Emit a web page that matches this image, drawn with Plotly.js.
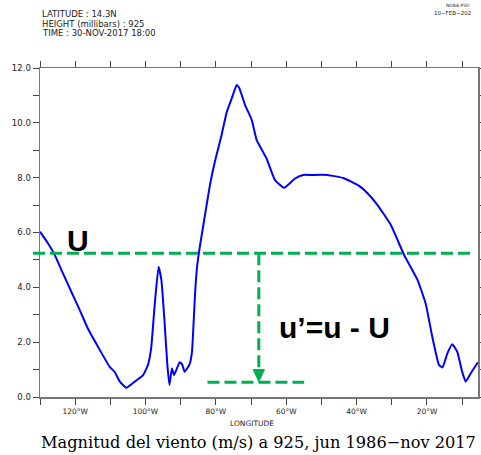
<!DOCTYPE html>
<html>
<head>
<meta charset="utf-8">
<script src="https://cdn.plot.ly/plotly-3.0.1.min.js"></script>
<style>html,body{margin:0;padding:0;background:#fff;}#chart{width:481px;height:455px;}</style>
</head>
<body>
<div id="chart"></div>
<script>
// Longitude (degrees, negative = West) and wind magnitude (m/s)
const longitude = [-130, -127.7, -125.8, -123.9, -121.1, -118.7, -116.4, -113.5, -110.2, -108.8,
  -107.3, -105.5, -103.1, -100.7, -99.3, -98.4, -97.4, -96.3, -95.5, -94.6, -93.8, -93.2,
  -92.5, -91.9, -90.3, -89.6, -88.9, -87.5, -86.8, -85.9, -85.3, -84.5, -83.1, -81.7,
  -80.3, -78.4, -76.9, -75.5, -74.1, -73.4, -71.7, -69.8, -68.4, -65.6, -63.2, -60.6,
  -57.5, -55.2, -53, -48.3, -43.6, -39.3, -36.9, -34.1, -30.3, -26.5, -22.7, -20.4,
  -18.5, -16.6, -15.6, -14.2, -12.8, -11.4, -10, -9, -7.6, -5.5];
const windSpeed = [6.03, 5.6, 5.18, 4.63, 3.84, 3.17, 2.5, 1.83, 1.1, 0.92,
  0.56, 0.34, 0.56, 0.80, 1.17, 1.78, 3.36, 4.75, 4.27, 2.75, 1.17, 0.44,
  1.05, 0.80, 1.27, 1.19, 0.92, 1.19, 1.65, 3.84, 4.81, 5.54, 6.64, 7.73,
  8.58, 9.55, 10.4, 10.89, 11.38, 11.28, 10.65, 10.1, 9.37, 8.7, 7.91, 7.63,
  7.97, 8.1, 8.1, 8.1, 7.98, 7.70, 7.43, 7.01, 6.28, 5.18, 4.27, 3.42,
  2.2, 1.17, 1.08, 1.59, 1.92, 1.65, 0.92, 0.56, 0.86, 1.27];

// Tick definitions
const xTickVals = [-130, -120, -110, -100, -90, -80, -70, -60, -50, -40, -30, -20, -10];
const xTickText = ['', '120°W', '', '100°W', '', '80°W', '', '60°W', '', '40°W', '', '20°W', ''];
const yTickVals = [0,1,2,3,4,5,6,7,8,9,10,11,12];
const yTickText = ['0.0','','2.0','','4.0','','6.0','','8.0','','10.0','','12.0'];

// Annotation guide values
const meanU = 5.24;          // U (mean)
const arrowLon = -67.8;      // longitude of the u' arrow
const lowLevel = 0.54;       // lower dashed level
const lowLine = [-82.4, -54.9];

const infoLines = ['LATITUDE : 14.3N', 'HEIGHT (millibars) : 925', 'TIME : 30-NOV-2017 18:00'];
const caption = 'Magnitud del viento (m/s) a 925, jun 1986\u2212nov 2017';

// layout geometry helpers (pixels -> paper)
const L = 40, R = 478, T = 68, B = 397;
const px = v => (v - L) / (R - L);
const py = v => (B - v) / (B - T);

const green = '#00B050';
const dashLine = {color: green, width: 3, dash: '12px,5px'};

const trace = {
  x: longitude, y: windSpeed, type: 'scatter', mode: 'lines',
  line: {color: '#0000FF', width: 2, shape: 'spline', smoothing: 0.4}, hoverinfo: 'skip'
};

const smallFont = {family: 'DejaVu Sans, sans-serif', size: 8.5, color: '#222'};

const layout = {
  width: 481, height: 455,
  margin: {l: L, r: 481 - R, t: T, b: 455 - B, pad: 0},
  paper_bgcolor: '#fff', plot_bgcolor: '#fff',
  showlegend: false,
  xaxis: {
    range: [-130, -5.5], tickmode: 'array', tickvals: xTickVals, ticktext: xTickText,
    ticks: 'outside', ticklen: 6, tickwidth: 1, tickcolor: '#444',
    showline: true, linecolor: '#777', linewidth: 1.5, mirror: 'ticks',
    showgrid: false, zeroline: false,
    tickfont: {family: 'DejaVu Sans, sans-serif', size: 7.5, color: '#222'}
  },
  yaxis: {
    range: [0, 12], tickmode: 'array', tickvals: yTickVals, ticktext: yTickText,
    ticks: 'outside', ticklen: 6, tickwidth: 1, tickcolor: '#444',
    showline: true, linecolor: '#777', linewidth: 1.5, mirror: 'ticks',
    showgrid: false, zeroline: false,
    tickfont: {family: 'DejaVu Sans, sans-serif', size: 8.5, color: '#222'}
  },
  shapes: [
    {type: 'line', xref: 'paper', yref: 'y', x0: px(33), x1: px(474), y0: meanU, y1: meanU, line: dashLine},
    {type: 'line', xref: 'x', yref: 'y', x0: arrowLon, x1: arrowLon, y0: meanU, y1: 1.0, line: dashLine},
    {type: 'line', xref: 'x', yref: 'y', x0: lowLine[0], x1: lowLine[1], y0: lowLevel, y1: lowLevel, line: dashLine},
    {type: 'path', xref: 'x', yref: 'y',
      path: `M ${arrowLon - 1.6} 1.0 L ${arrowLon + 1.6} 1.0 L ${arrowLon} 0.56 Z`,
      fillcolor: green, line: {color: green, width: 1}}
  ],
  annotations: [
    ...infoLines.map((t, i) => ({
      text: t, xref: 'paper', yref: 'paper', x: px(40), y: py(14 + i * 9.5),
      xanchor: 'left', yanchor: 'middle', showarrow: false, font: smallFont
    })),
    {text: 'NOAA PSD', xref: 'paper', yref: 'paper', x: px(472), y: py(5), xanchor: 'right', yanchor: 'middle',
      showarrow: false, font: {family: 'DejaVu Sans, sans-serif', size: 4.5, color: '#222'}},
    {text: '10\u2212FEB\u2212202', xref: 'paper', yref: 'paper', x: px(473), y: py(13), xanchor: 'right', yanchor: 'middle',
      showarrow: false, font: {family: 'DejaVu Sans, sans-serif', size: 5.5, color: '#222'}},
    {text: 'LONGITUDE', xref: 'paper', yref: 'paper', x: px(252), y: py(423), xanchor: 'center', yanchor: 'middle',
      showarrow: false, font: {family: 'DejaVu Sans, sans-serif', size: 7.5, color: '#222'}},
    {text: caption, xref: 'paper', yref: 'paper', x: px(258.5), y: py(442), xanchor: 'center', yanchor: 'middle',
      showarrow: false, font: {family: 'DejaVu Serif, serif', size: 16.2, color: '#000'}},
    {text: '<b>U</b>', xref: 'paper', yref: 'paper', x: px(77.5), y: py(240), xanchor: 'center', yanchor: 'middle',
      showarrow: false, font: {family: 'Liberation Sans, Arial, sans-serif', size: 30, color: '#000'}},
    {text: '<b>u\u2019=u - U</b>', xref: 'paper', yref: 'paper', x: px(334), y: py(327), xanchor: 'center', yanchor: 'middle',
      showarrow: false, font: {family: 'Liberation Sans, Arial, sans-serif', size: 30, color: '#000'}}
  ]
};

Plotly.newPlot('chart', [trace], layout, {displayModeBar: false, staticPlot: true});
</script>
</body>
</html>
